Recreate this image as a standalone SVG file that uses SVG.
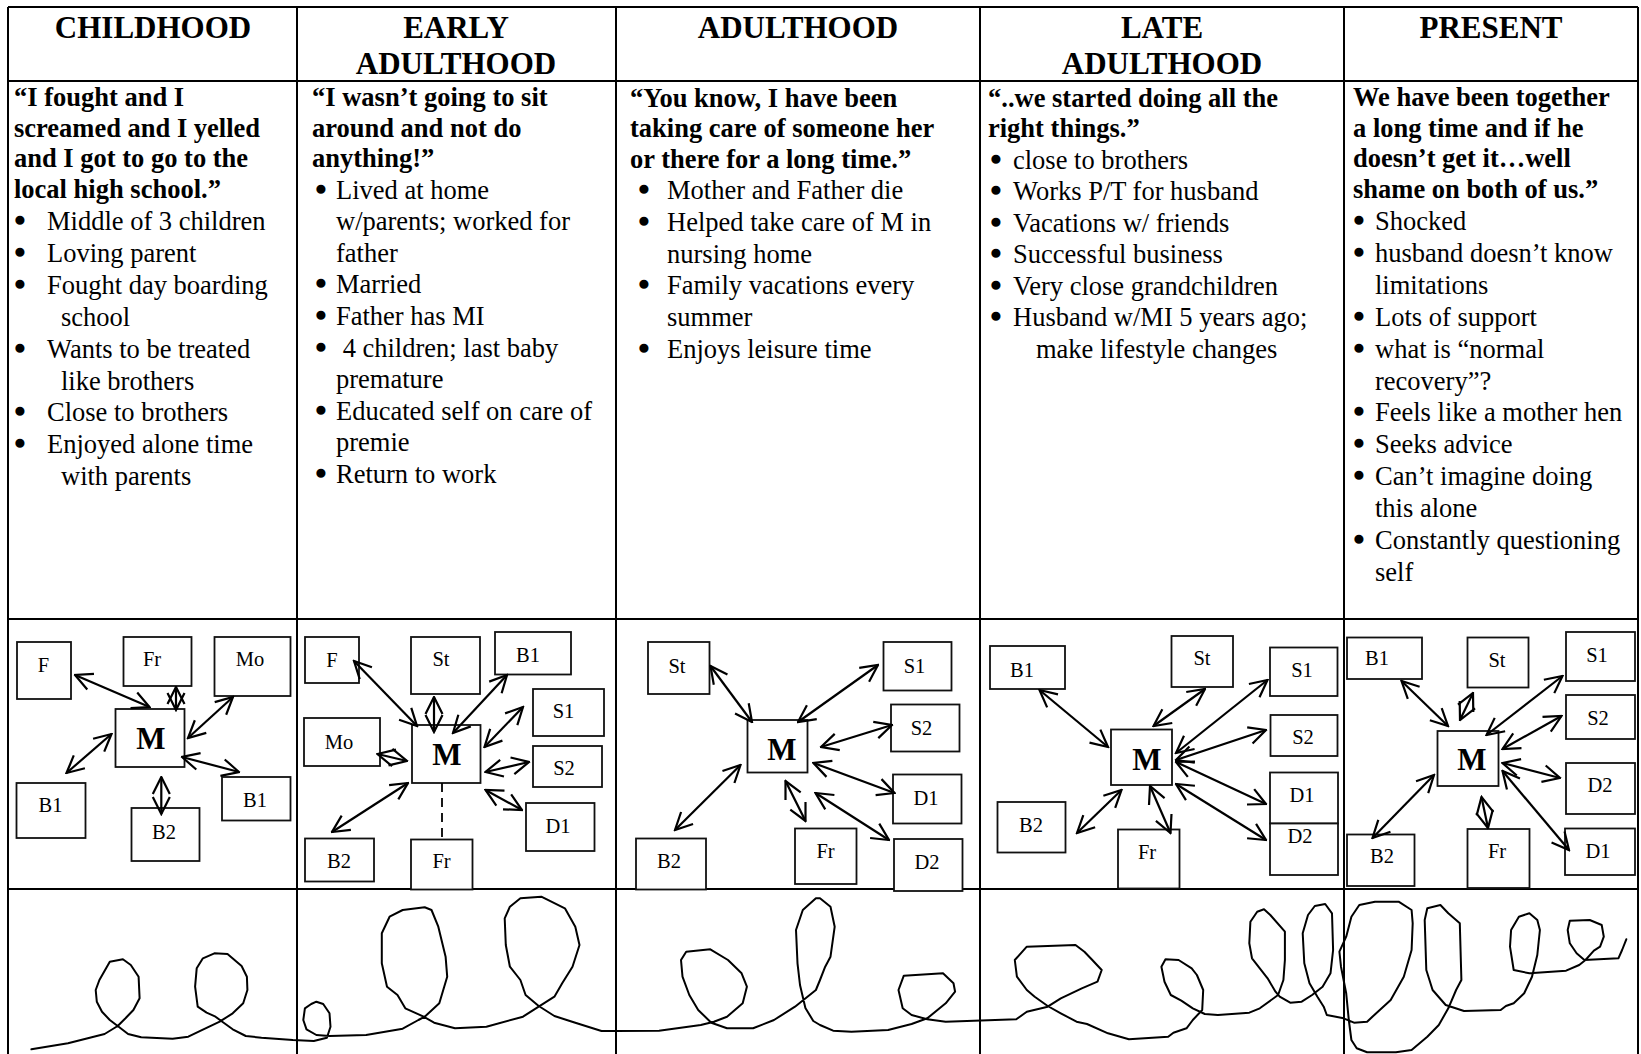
<svg xmlns="http://www.w3.org/2000/svg" width="1641" height="1054" viewBox="0 0 1641 1054">
<style>
.grid{stroke:#000;stroke-width:2;fill:none}
.hd{font-family:"Liberation Serif","Times New Roman",serif;font-weight:bold;font-size:31px;text-anchor:middle;fill:#000}
.q{font-family:"Liberation Serif","Times New Roman",serif;font-weight:bold;font-size:26.5px;fill:#000}
.t{font-family:"Liberation Serif","Times New Roman",serif;font-size:26.5px;fill:#000}
.bu{font-size:28px;stroke:#000;stroke-width:2.4;stroke-linejoin:round}
.box{fill:#fff;stroke:#111;stroke-width:1.8}
.lb{font-family:"Liberation Serif","Times New Roman",serif;font-size:20.5px;text-anchor:middle;fill:#000}
.mb{font-family:"Liberation Serif","Times New Roman",serif;font-weight:bold;font-size:31px;text-anchor:middle;fill:#000}
.ar{stroke:#000;stroke-width:2.2;fill:none;marker-start:url(#ah);marker-end:url(#ah)}
.dash{stroke:#000;stroke-width:1.8;fill:none;stroke-dasharray:9 6}
.sp{stroke:#000;stroke-width:2;fill:none;stroke-linejoin:round;stroke-linecap:round}
</style>
<defs>
<marker id="ah" markerUnits="userSpaceOnUse" viewBox="0 0 20 20" refX="18.5" refY="10" markerWidth="20" markerHeight="20" orient="auto-start-reverse">
<path d="M1.5,1.5 L18.5,10 L1.5,18.5" fill="none" stroke="#000" stroke-width="2.2"/>
</marker>
</defs>
<rect width="1641" height="1054" fill="#fff"/>

<g id="table">
<line class="grid" x1="8" y1="7" x2="1638" y2="7"/>
<line class="grid" x1="8" y1="81" x2="1638" y2="81"/>
<line class="grid" x1="8" y1="619" x2="1638" y2="619"/>
<line class="grid" x1="8" y1="889" x2="1638" y2="889"/>
<line class="grid" x1="8" y1="7" x2="8" y2="1054"/>
<line class="grid" x1="297" y1="7" x2="297" y2="1054"/>
<line class="grid" x1="616" y1="7" x2="616" y2="1054"/>
<line class="grid" x1="980" y1="7" x2="980" y2="1054"/>
<line class="grid" x1="1344" y1="7" x2="1344" y2="1054"/>
<line class="grid" x1="1638" y1="7" x2="1638" y2="1054"/>
</g>

<g id="headers">
<text class="hd" x="153" y="38">CHILDHOOD</text>
<text class="hd" x="456" y="38">EARLY</text>
<text class="hd" x="456" y="73.5">ADULTHOOD</text>
<text class="hd" x="798" y="38">ADULTHOOD</text>
<text class="hd" x="1162" y="38">LATE</text>
<text class="hd" x="1162" y="73.5">ADULTHOOD</text>
<text class="hd" x="1491" y="38">PRESENT</text>
</g>

<g id="text-childhood">
<text class="q" x="14" y="106">“I fought and I</text>
<text class="q" x="14" y="136.7">screamed and I yelled</text>
<text class="q" x="14" y="167.4">and I got to go to the</text>
<text class="q" x="14" y="198.1">local high school.”</text>
<text class="t" y="230"><tspan class="bu" x="15">•</tspan><tspan x="47">Middle of 3 children</tspan></text>
<text class="t" y="261.9"><tspan class="bu" x="15">•</tspan><tspan x="47">Loving parent</tspan></text>
<text class="t" y="293.8"><tspan class="bu" x="15">•</tspan><tspan x="47">Fought day boarding</tspan></text>
<text class="t" x="61" y="325.7">school</text>
<text class="t" y="357.6"><tspan class="bu" x="15">•</tspan><tspan x="47">Wants to be treated</tspan></text>
<text class="t" x="61" y="389.5">like brothers</text>
<text class="t" y="421.4"><tspan class="bu" x="15">•</tspan><tspan x="47">Close to brothers</tspan></text>
<text class="t" y="453.3"><tspan class="bu" x="15">•</tspan><tspan x="47">Enjoyed alone time</tspan></text>
<text class="t" x="61" y="485.2">with parents</text>
</g>

<g id="text-early">
<text class="q" x="312" y="106">“I wasn’t going to sit</text>
<text class="q" x="312" y="136.7">around and not do</text>
<text class="q" x="312" y="167.4">anything!”</text>
<text class="t" y="198.5"><tspan class="bu" x="316">•</tspan><tspan x="336">Lived at home</tspan></text>
<text class="t" x="336" y="230.1">w/parents; worked for</text>
<text class="t" x="336" y="261.7">father</text>
<text class="t" y="293.3"><tspan class="bu" x="316">•</tspan><tspan x="336">Married</tspan></text>
<text class="t" y="324.9"><tspan class="bu" x="316">•</tspan><tspan x="336">Father has MI</tspan></text>
<text class="t" y="356.5"><tspan class="bu" x="316">•</tspan><tspan x="336"> 4 children; last baby</tspan></text>
<text class="t" x="336" y="388.1">premature</text>
<text class="t" y="419.7"><tspan class="bu" x="316">•</tspan><tspan x="336">Educated self on care of</tspan></text>
<text class="t" x="336" y="451.3">premie</text>
<text class="t" y="482.9"><tspan class="bu" x="316">•</tspan><tspan x="336">Return to work</tspan></text>
</g>

<g id="text-adulthood">
<text class="q" x="630" y="106.5">“You know, I have been</text>
<text class="q" x="630" y="137">taking care of someone her</text>
<text class="q" x="630" y="167.5">or there for a long time.”</text>
<text class="t" y="199"><tspan class="bu" x="639">•</tspan><tspan x="667">Mother and Father die</tspan></text>
<text class="t" y="230.8"><tspan class="bu" x="639">•</tspan><tspan x="667">Helped take care of M in</tspan></text>
<text class="t" x="667" y="262.6">nursing home</text>
<text class="t" y="294.4"><tspan class="bu" x="639">•</tspan><tspan x="667">Family vacations every</tspan></text>
<text class="t" x="667" y="326.2">summer</text>
<text class="t" y="358"><tspan class="bu" x="639">•</tspan><tspan x="667">Enjoys leisure time</tspan></text>
</g>

<g id="text-late">
<text class="q" x="988" y="106.5">“..we started doing all the</text>
<text class="q" x="988" y="137">right things.”</text>
<text class="t" y="168.5"><tspan class="bu" x="991">•</tspan><tspan x="1013">close to brothers</tspan></text>
<text class="t" y="200"><tspan class="bu" x="991">•</tspan><tspan x="1013">Works P/T for husband</tspan></text>
<text class="t" y="231.5"><tspan class="bu" x="991">•</tspan><tspan x="1013">Vacations w/ friends</tspan></text>
<text class="t" y="263"><tspan class="bu" x="991">•</tspan><tspan x="1013">Successful business</tspan></text>
<text class="t" y="294.5"><tspan class="bu" x="991">•</tspan><tspan x="1013">Very close grandchildren</tspan></text>
<text class="t" y="326"><tspan class="bu" x="991">•</tspan><tspan x="1013">Husband w/MI 5 years ago;</tspan></text>
<text class="t" x="1036" y="357.5">make lifestyle changes</text>
</g>

<g id="text-present">
<text class="q" x="1353" y="106">We have been together</text>
<text class="q" x="1353" y="136.7">a long time and if he</text>
<text class="q" x="1353" y="167.4">doesn’t get it…well</text>
<text class="q" x="1353" y="198.1">shame on both of us.”</text>
<text class="t" y="230"><tspan class="bu" x="1354">•</tspan><tspan x="1375">Shocked</tspan></text>
<text class="t" y="261.9"><tspan class="bu" x="1354">•</tspan><tspan x="1375">husband doesn’t know</tspan></text>
<text class="t" x="1375" y="293.8">limitations</text>
<text class="t" y="325.7"><tspan class="bu" x="1354">•</tspan><tspan x="1375">Lots of support</tspan></text>
<text class="t" y="357.6"><tspan class="bu" x="1354">•</tspan><tspan x="1375">what is “normal</tspan></text>
<text class="t" x="1375" y="389.5">recovery”?</text>
<text class="t" y="421.4"><tspan class="bu" x="1354">•</tspan><tspan x="1375">Feels like a mother hen</tspan></text>
<text class="t" y="453.3"><tspan class="bu" x="1354">•</tspan><tspan x="1375">Seeks advice</tspan></text>
<text class="t" y="485.2"><tspan class="bu" x="1354">•</tspan><tspan x="1375">Can’t imagine doing</tspan></text>
<text class="t" x="1375" y="517.1">this alone</text>
<text class="t" y="549"><tspan class="bu" x="1354">•</tspan><tspan x="1375">Constantly questioning</tspan></text>
<text class="t" x="1375" y="580.9">self</text>
</g>

<g id="nodes-childhood">
<g id="c1-F"><rect class="box" x="17" y="642" width="54" height="57"/><text class="lb" x="43.5" y="671.5">F</text></g>
<g id="c1-Fr"><rect class="box" x="123.5" y="637" width="68" height="49"/><text class="lb" x="152" y="666">Fr</text></g>
<g id="c1-Mo"><rect class="box" x="214.5" y="637" width="76" height="59"/><text class="lb" x="250" y="666">Mo</text></g>
<g id="c1-M"><rect class="box" x="115.5" y="709" width="69" height="58"/><text class="mb" x="151" y="749">M</text></g>
<g id="c1-B1a"><rect class="box" x="16.5" y="783" width="69" height="55"/><text class="lb" x="50.5" y="811.5">B1</text></g>
<g id="c1-B2"><rect class="box" x="131.5" y="808" width="68" height="53"/><text class="lb" x="164" y="839">B2</text></g>
<g id="c1-B1b"><rect class="box" x="222" y="777" width="68.5" height="43.5"/><text class="lb" x="255" y="807">B1</text></g>
</g>

<g id="nodes-early">
<g id="c2-F"><rect class="box" x="305" y="637" width="54" height="46"/><text class="lb" x="332" y="666.5">F</text></g>
<g id="c2-St"><rect class="box" x="411" y="637" width="69" height="57"/><text class="lb" x="441" y="666">St</text></g>
<g id="c2-B1"><rect class="box" x="495" y="632" width="76" height="42.5"/><text class="lb" x="528" y="661.5">B1</text></g>
<g id="c2-S1"><rect class="box" x="533" y="689" width="71" height="47"/><text class="lb" x="563.5" y="718">S1</text></g>
<g id="c2-Mo"><rect class="box" x="304" y="718" width="76" height="48"/><text class="lb" x="339" y="749">Mo</text></g>
<g id="c2-M"><rect class="box" x="412" y="725" width="68.5" height="58"/><text class="mb" x="447" y="765">M</text></g>
<g id="c2-S2"><rect class="box" x="533" y="746" width="69" height="41"/><text class="lb" x="564" y="775">S2</text></g>
<g id="c2-D1"><rect class="box" x="526" y="803" width="68.5" height="48"/><text class="lb" x="558" y="832.5">D1</text></g>
<g id="c2-B2"><rect class="box" x="305" y="838.5" width="69" height="43"/><text class="lb" x="339" y="868">B2</text></g>
<g id="c2-Fr"><rect class="box" x="411" y="839.5" width="61.5" height="50"/><text class="lb" x="441.5" y="868">Fr</text></g>
</g>

<g id="nodes-adulthood">
<g id="c3-St"><rect class="box" x="648" y="642" width="61.5" height="52"/><text class="lb" x="677" y="673">St</text></g>
<g id="c3-S1"><rect class="box" x="883.5" y="642" width="68" height="48.5"/><text class="lb" x="914.5" y="673">S1</text></g>
<g id="c3-M"><rect class="box" x="747.5" y="720" width="60" height="52.5"/><text class="mb" x="782" y="760">M</text></g>
<g id="c3-S2"><rect class="box" x="891" y="704.5" width="68.5" height="47"/><text class="lb" x="921.5" y="735">S2</text></g>
<g id="c3-D1"><rect class="box" x="893" y="774.5" width="68.5" height="49"/><text class="lb" x="926" y="805">D1</text></g>
<g id="c3-B2"><rect class="box" x="636" y="838.5" width="70" height="51"/><text class="lb" x="669" y="868">B2</text></g>
<g id="c3-Fr"><rect class="box" x="795" y="828.5" width="61.5" height="55.5"/><text class="lb" x="825.5" y="858">Fr</text></g>
<g id="c3-D2"><rect class="box" x="894" y="839" width="68.5" height="52"/><text class="lb" x="927" y="869">D2</text></g>
</g>

<g id="nodes-late">
<g id="c4-B1"><rect class="box" x="990" y="646" width="75" height="43"/><text class="lb" x="1022" y="676.5">B1</text></g>
<g id="c4-St"><rect class="box" x="1171.5" y="636" width="61.5" height="51"/><text class="lb" x="1202" y="665">St</text></g>
<g id="c4-M"><rect class="box" x="1111" y="729.5" width="61" height="55.5"/><text class="mb" x="1147" y="770">M</text></g>
<g id="c4-B2"><rect class="box" x="997.5" y="802" width="68" height="50.5"/><text class="lb" x="1031" y="831.5">B2</text></g>
<g id="c4-Fr"><rect class="box" x="1118" y="829.5" width="61.5" height="59"/><text class="lb" x="1147" y="859">Fr</text></g>
<g id="c4-S1"><rect class="box" x="1270" y="647.5" width="67.5" height="48.5"/><text class="lb" x="1302" y="676.5">S1</text></g>
<g id="c4-S2"><rect class="box" x="1270.5" y="715" width="67" height="41"/><text class="lb" x="1303" y="744">S2</text></g>
<g id="c4-D1"><rect class="box" x="1270" y="772.5" width="68" height="51"/><text class="lb" x="1302" y="801.5">D1</text></g>
<g id="c4-D2"><rect class="box" x="1270" y="823.5" width="68" height="51.5"/><text class="lb" x="1300" y="843">D2</text></g>
</g>

<g id="nodes-present">
<g id="c5-B1"><rect class="box" x="1347" y="637.5" width="75" height="41.5"/><text class="lb" x="1377" y="665">B1</text></g>
<g id="c5-St"><rect class="box" x="1467.5" y="637.5" width="61" height="50"/><text class="lb" x="1497" y="667">St</text></g>
<g id="c5-S1"><rect class="box" x="1566" y="632" width="69" height="49"/><text class="lb" x="1597" y="661.5">S1</text></g>
<g id="c5-S2"><rect class="box" x="1566" y="695" width="69" height="44"/><text class="lb" x="1598" y="725">S2</text></g>
<g id="c5-M"><rect class="box" x="1437.5" y="731" width="61" height="55"/><text class="mb" x="1472" y="770">M</text></g>
<g id="c5-D2"><rect class="box" x="1566" y="763" width="69" height="51"/><text class="lb" x="1600" y="791.5">D2</text></g>
<g id="c5-B2"><rect class="box" x="1347" y="834.5" width="67.5" height="51.5"/><text class="lb" x="1382" y="863">B2</text></g>
<g id="c5-Fr"><rect class="box" x="1467.5" y="829" width="62" height="59"/><text class="lb" x="1497" y="858">Fr</text></g>
<g id="c5-D1"><rect class="box" x="1565" y="828.5" width="70" height="46.5"/><text class="lb" x="1598" y="858">D1</text></g>
</g>

<g id="connectors">
<line class="ar" x1="75" y1="675" x2="149.5" y2="707"/>
<line class="ar" x1="176" y1="687" x2="176" y2="710"/>
<line class="ar" x1="233" y1="697" x2="188" y2="738"/>
<line class="ar" x1="66.5" y1="773" x2="111.5" y2="734"/>
<line class="ar" x1="161.3" y1="777" x2="161.3" y2="814"/>
<line class="ar" x1="182" y1="757" x2="239" y2="772"/>

<line class="ar" x1="354" y1="661" x2="417" y2="726"/>
<line class="ar" x1="434" y1="697" x2="434" y2="732"/>
<line class="ar" x1="507" y1="675" x2="453" y2="733"/>
<line class="ar" x1="523" y1="707" x2="484.5" y2="747"/>
<line class="ar" x1="529" y1="762" x2="485.5" y2="772"/>
<line class="ar" x1="522" y1="810" x2="485.5" y2="790"/>
<line class="ar" x1="377.5" y1="754" x2="407" y2="761"/>
<line class="ar" x1="332" y1="832" x2="408" y2="783"/>
<line class="dash" x1="442" y1="783" x2="442" y2="839"/>

<line class="ar" x1="710.5" y1="666" x2="752" y2="722"/>
<line class="ar" x1="878" y1="665" x2="798" y2="722"/>
<line class="ar" x1="892" y1="725" x2="821" y2="747"/>
<line class="ar" x1="894.5" y1="793" x2="813.5" y2="763"/>
<line class="ar" x1="675" y1="830" x2="740.5" y2="765"/>
<line class="ar" x1="785.5" y1="781" x2="805.5" y2="821"/>
<line class="ar" x1="815.5" y1="793" x2="889" y2="840"/>

<line class="ar" x1="1039.5" y1="690" x2="1108" y2="747"/>
<line class="ar" x1="1205" y1="689" x2="1153.5" y2="726"/>
<line class="ar" x1="1267.5" y1="680" x2="1176" y2="753"/>
<line class="ar" x1="1266" y1="730" x2="1176" y2="760"/>
<line class="ar" x1="1266" y1="804" x2="1176" y2="762"/>
<line class="ar" x1="1266" y1="840" x2="1176" y2="784"/>
<line class="ar" x1="1150" y1="786" x2="1170.5" y2="833"/>
<line class="ar" x1="1077" y1="833" x2="1121.5" y2="790"/>

<line class="ar" x1="1401.5" y1="681" x2="1448" y2="726"/>
<line class="ar" x1="1460" y1="720" x2="1473" y2="693"/>
<line class="ar" x1="1562.5" y1="676" x2="1486.5" y2="735"/>
<line class="ar" x1="1561.5" y1="716" x2="1502.5" y2="749"/>
<line class="ar" x1="1560" y1="778" x2="1502.5" y2="763"/>
<line class="ar" x1="1569" y1="850" x2="1502.5" y2="771"/>
<line class="ar" x1="1481.5" y1="797" x2="1488" y2="828"/>
<line class="ar" x1="1372.5" y1="838" x2="1434" y2="775"/>
</g>

<g id="spiral">
<polyline class="sp" points="31.4,1049.3 68,1043.3 104.6,1034 117.7,1026 125.5,1018.3 133.4,1010 139.6,998.3 138.6,976.7 130.8,965 122.9,959.3 109.8,961.7 99.4,980 95.7,990 96.8,1001.7 102,1011.7 109.8,1020 117.7,1026 128.1,1034 141.2,1037.3 172.6,1038.7 188.3,1036.7 198.7,1031.7 209.2,1026.7 219.7,1021.7 232.7,1013.3 243.2,1003.3 247.4,990 246.9,976.7 241.6,966 227.5,954 214.4,953.3 202.9,958.3 196.7,968.3 195.1,986.7 197.7,1006.7 206.6,1012.7 215.5,1016.7 222.3,1021.7 232.7,1029.3 245.8,1036 261.5,1037.7 292.9,1040 313.8,1041 326.9,1037.7 330.5,1026.7 329.5,1013.3 323.2,1004 316.4,1001.7 311.2,1004 304.9,1008.3 303.3,1020 306.5,1029.3 316.4,1035 329.5,1036 366.1,1035 402.7,1028.7 418.4,1020 424.7,1016.7 439.3,1003.3 447.2,976.7 445.6,956.7 438.3,926.7 431.5,910 424.7,907.3 402.7,910 389.6,916.7 381.8,933.3 381.8,963.3 387,986.7 397.5,995 405.3,1008.3 423.6,1016.7 434.1,1022.7 455,1028.3 486.4,1026.7 523,1016.7 538.7,1006.7 554.4,996.7 562.2,983.3 572.5,966.7 579.5,945 575.3,926.7 564.9,908.3 541.3,896.7 520.4,898.3 509.9,906.7 504.7,918.3 505.8,945 509.9,966.7 520.4,980 525.6,995 538.7,1006 554.4,1016 575.3,1022.7 601.5,1031 616.1,1031 659,1030.7 700.8,1025 713.9,1021.7 727,1016.7 742.7,1003.3 746.9,986.7 741.6,973.3 728,960 710.3,949.3 686.2,951.7 681,960 682.5,976.7 689.3,995 698.2,1010 711.3,1022.7 727,1028.3 753.1,1028.3 774,1020 795,1006.7 815.9,990 820,980 825.2,966.7 830.5,956.7 834.7,926.7 830.5,906.7 820,898.3 815.9,898.3 802.8,910 796,930 797.5,963.3 800,985 805.4,1008 813.3,1021 820,1025 833.1,1030.7 851.4,1031.7 888.1,1030 911.6,1024 927.3,1018.3 945.7,1003.3 955.1,991.7 953.5,983.3 943,973.3 903.8,975.7 898.5,990 902.7,1008.3 911.6,1015 927.3,1019.3 945.7,1021.7 1016.3,1019.3 1026.8,1011.7 1047.7,1006.7 1060.8,998.3 1081.8,988.3 1097.5,981.7 1101.7,970 1092.3,960 1084.4,951.7 1075.5,945 1026.8,946.7 1014.8,960 1016.9,976.7 1026.8,990 1034.7,996.7 1047.7,1006 1060.8,1013.3 1076.5,1021.7 1087,1024 1108,1033.3 1128.9,1039.3 1168.2,1036.7 1173.4,1032.7 1186.5,1028.3 1192.8,1020 1202.2,1010 1203.2,990 1196.9,975 1191.7,968.3 1178.6,960 1165.5,959.3 1161.4,966.7 1164.5,981.7 1170.8,995 1181.3,1000.7 1192.8,1008.3 1204.8,1014 1217.9,1015 1249.3,1012.7 1259.8,1008.3 1278.1,995 1283.4,980 1284.9,960 1284.9,931.7 1270.3,915 1264,909.3 1257.2,911.7 1250.4,921.7 1249.3,943.3 1252,958.3 1267.6,978.3 1275.5,991.7 1279.7,996.7 1290.2,1002.7 1301.7,1001.7 1312.1,995 1322.6,986.7 1330.5,973.3 1333.1,950 1332,913.3 1325.2,904 1314.8,906 1308,915 1302.7,933.3 1304.3,963.3 1309.5,983.3 1317.4,996.7 1323.7,1006.7 1326.8,1015 1343.6,1018.3 1354,1022.7 1367.1,1021.7 1372.4,1016.7 1390.7,1000 1403.8,976.7 1411.6,950 1412.7,923.3 1411.6,910 1398.6,901.7 1375,901.7 1359.3,905 1351.4,916.7 1346.2,936.7 1339.4,951.7 1341,966.7 1346.2,993.3 1348.8,1020 1351.4,1040 1356.7,1048.3 1367.1,1052.3 1395.9,1052.3 1411.6,1050 1427.3,1036.7 1438.8,1025 1448.3,1008.3 1456.1,990 1461.4,980 1459.8,923.3 1448.3,913.3 1440.4,905 1427.3,908.3 1424.7,920 1426.3,970 1432.6,990 1445.7,1005 1464,1011 1500.7,1010 1505.9,1006 1513.7,1003.3 1524.2,993.3 1532,976.7 1537.3,955 1539.9,930 1537.3,920 1529.4,913.3 1518.9,916.7 1511.1,930 1510,946.7 1513.7,970 1529.4,973.3 1566.1,970.7 1579.2,965 1585.5,960 1593.9,950.7 1600.1,946.7 1603.8,936.7 1601.7,925 1589.7,920 1569.8,920.7 1567.7,930 1569.8,943.3 1576.6,953.3 1584.4,960 1618.4,958.3 1622.1,950 1626.3,939.3"/>
</g>
</svg>
